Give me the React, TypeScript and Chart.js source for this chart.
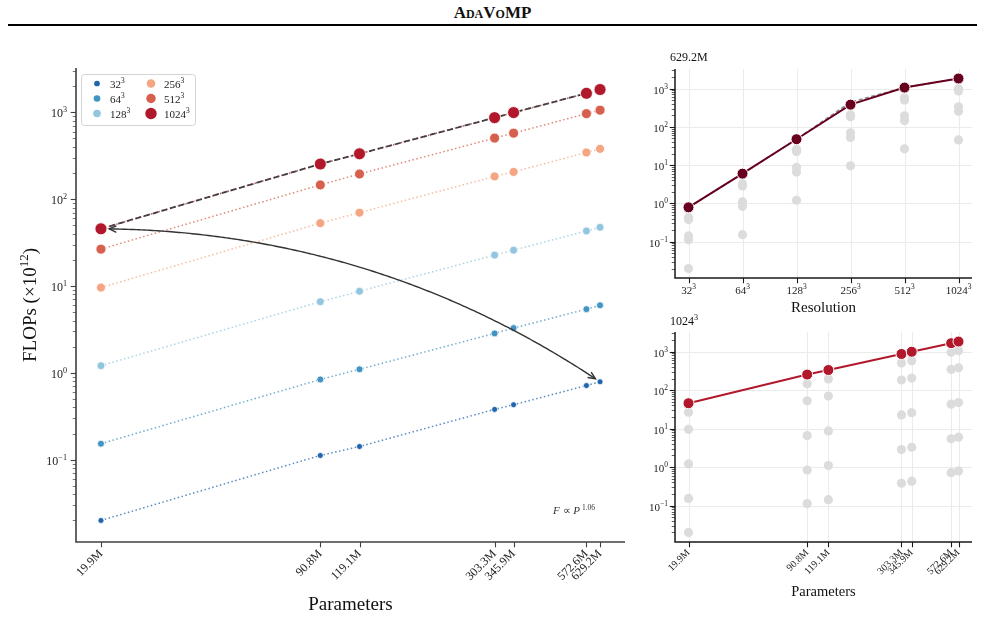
import { useEffect, useRef } from 'react';
import { Chart, registerables } from 'chart.js';

Chart.register(...registerables);

const SERIF = '"Liberation Serif", "Times New Roman", Times, serif';
Chart.defaults.font.family = SERIF;

// Model sizes (millions of parameters) and their tick labels
const params = [19.9, 90.8, 119.1, 303.3, 345.9, 572.6, 629.2];
const paramLabels = ['19.9M', '90.8M', '119.1M', '303.3M', '345.9M', '572.6M', '629.2M'];

// Voxel grid resolutions, shown as N³
const resolutions = ['32', '64', '128', '256', '512', '1024'];

// FLOPs (×10¹²) for each resolution, one value per model size
const flops32 = [0.02, 0.112, 0.142, 0.38, 0.43, 0.715, 0.79];
const flops64 = [0.153, 0.84, 1.1, 2.85, 3.28, 5.42, 6.0];
const flops128 = [1.21, 6.6, 8.7, 22.7, 25.9, 43.1, 47.5];
const flops256 = [9.6, 53, 70, 183, 206, 345, 380];
const flops512 = [26.6, 146, 195, 505, 576, 966, 1060];
const flops1024 = [45.6, 254, 333, 869, 993, 1656, 1830];
const flopsByRes = [flops32, flops64, flops128, flops256, flops512, flops1024];

// Fitted trend of the largest model across resolutions
const resTrend629 = [0.79, 6.0, 47.5, 440, 1060, 1830];

const scalingExponent = '1.06';

const resColors = ['#2166ac', '#4393c3', '#92c5de', '#f4a582', '#d6604d', '#b2182b'];
const markerRadius = [3, 3.5, 4, 4.5, 5, 6];
const LARGEST_COLOR = '#67001f';
const GRAY_PT = '#dcdcdc';

const hexA = (hex: string, a: number) => {
  const n = parseInt(hex.slice(1), 16);
  return `rgba(${(n >> 16) & 255},${(n >> 8) & 255},${n & 255},${a})`;
};

// log-axis limits with a 5% margin on each side (in log space)
const logPad = (lo: number, hi: number) => {
  const f = Math.pow(hi / lo, 0.05);
  return [lo / f, hi * f];
};
const allFlops = flopsByRes.flat();
const [yMin, yMax] = logPad(Math.min(...allFlops), Math.max(...allFlops));
const [xMin, xMax] = logPad(params[0], params[params.length - 1]);

type Run = { t: string; size: number; rise?: number; italic?: boolean };

const setFont = (ctx: CanvasRenderingContext2D, r: Run) => {
  ctx.font = `${r.italic ? 'italic ' : ''}${r.size}px ${SERIF}`;
};
const runsWidth = (ctx: CanvasRenderingContext2D, runs: Run[]) =>
  runs.reduce((w, r) => {
    setFont(ctx, r);
    return w + ctx.measureText(r.t).width;
  }, 0);
function drawRuns(ctx: CanvasRenderingContext2D, runs: Run[], x: number, y: number, align: 'left' | 'center' | 'right') {
  const w = runsWidth(ctx, runs);
  let cx = align === 'left' ? x : align === 'center' ? x - w / 2 : x - w;
  ctx.textAlign = 'left';
  ctx.textBaseline = 'alphabetic';
  for (const r of runs) {
    setFont(ctx, r);
    ctx.fillText(r.t, cx, y - (r.rise || 0));
    cx += ctx.measureText(r.t).width;
  }
}
const pow = (base: string, sup: string, size: number): Run[] => [
  { t: base, size },
  { t: sup, size: size * 0.68, rise: size * 0.42 },
];
const decadeLabel = (d: number, size: number) => pow('10', d < 0 ? '\u2212' + Math.abs(d) : String(d), size);

type AxisStyle = { color: string; width: number; font: number; labelGap: number; textColor: string };

// Left spine with outward log ticks (majors labelled as powers of ten)
function drawLogYAxis(chart: any, s: AxisStyle) {
  const { ctx, chartArea: a } = chart;
  const ys = chart.scales.y;
  ctx.save();
  ctx.strokeStyle = s.color;
  ctx.fillStyle = s.textColor;
  const d0 = Math.floor(Math.log10(ys.min));
  const d1 = Math.ceil(Math.log10(ys.max));
  for (let d = d0; d <= d1; d++) {
    for (let k = 1; k < 10; k++) {
      const v = k * Math.pow(10, d);
      if (v < ys.min || v > ys.max) continue;
      const py = Math.round(ys.getPixelForValue(v)) + 0.5;
      const len = k === 1 ? 4.5 : 2.5;
      ctx.lineWidth = k === 1 ? 1.1 : 0.7;
      ctx.beginPath();
      ctx.moveTo(a.left - s.width / 2 - len, py);
      ctx.lineTo(a.left, py);
      ctx.stroke();
      if (k === 1) drawRuns(ctx, decadeLabel(d, s.font), a.left - s.labelGap, py + s.font * 0.4, 'right');
    }
  }
  ctx.lineWidth = s.width;
  ctx.beginPath();
  ctx.moveTo(a.left, a.top);
  ctx.lineTo(a.left, a.bottom);
  ctx.moveTo(a.left - s.width / 2, a.bottom);
  ctx.lineTo(a.right, a.bottom);
  ctx.stroke();
  ctx.restore();
}

function drawXTickMarks(chart: any, values: number[], s: AxisStyle) {
  const { ctx, chartArea: a } = chart;
  const xs = chart.scales.x;
  ctx.save();
  ctx.strokeStyle = s.color;
  ctx.lineWidth = 1.1;
  for (const v of values) {
    const px = Math.round(xs.getPixelForValue(v)) + 0.5;
    ctx.beginPath();
    ctx.moveTo(px, a.bottom);
    ctx.lineTo(px, a.bottom + s.width / 2 + 4.5);
    ctx.stroke();
  }
  ctx.restore();
}

function drawRotatedLabels(chart: any, values: number[], labels: string[], size: number, dy: number) {
  const { ctx, chartArea: a } = chart;
  const xs = chart.scales.x;
  ctx.save();
  ctx.fillStyle = '#222';
  ctx.font = `${size}px ${SERIF}`;
  values.forEach((v, i) => {
    const px = xs.getPixelForValue(v);
    ctx.save();
    ctx.translate(px, a.bottom + dy);
    ctx.rotate(-Math.PI / 4);
    ctx.textAlign = 'right';
    ctx.textBaseline = 'middle';
    ctx.fillText(labels[i], 0, 0);
    ctx.restore();
  });
  ctx.restore();
}

function drawPanelGrid(chart: any, xValues: number[]) {
  const { ctx, chartArea: a } = chart;
  const xs = chart.scales.x;
  const ys = chart.scales.y;
  ctx.save();
  ctx.strokeStyle = '#ebebeb';
  ctx.lineWidth = 1;
  ctx.beginPath();
  for (const v of xValues) {
    const px = Math.round(xs.getPixelForValue(v)) + 0.5;
    ctx.moveTo(px, a.top);
    ctx.lineTo(px, a.bottom);
  }
  for (let d = Math.ceil(Math.log10(ys.min)); d <= Math.floor(Math.log10(ys.max)); d++) {
    const py = Math.round(ys.getPixelForValue(Math.pow(10, d))) + 0.5;
    ctx.moveTo(a.left, py);
    ctx.lineTo(a.right, py);
  }
  ctx.stroke();
  ctx.restore();
}

// Curved double-headed arrow between two data points (quadratic arc)
function drawArcArrow(ctx: CanvasRenderingContext2D, sx: number, sy: number, ex: number, ey: number, rad: number, shrinkA: number, shrinkB: number) {
  const dx = ex - sx;
  const dy = ey - sy;
  const cx = (sx + ex) / 2 + rad * dy;
  const cy = (sy + ey) / 2 - rad * dx;
  const pts: [number, number][] = [];
  for (let i = 0; i <= 200; i++) {
    const t = i / 200;
    const u = 1 - t;
    pts.push([u * u * sx + 2 * u * t * cx + t * t * ex, u * u * sy + 2 * u * t * cy + t * t * ey]);
  }
  const trim = (p: [number, number][], len: number) => {
    let acc = 0;
    let i = 0;
    while (i < p.length - 1 && acc < len) {
      acc += Math.hypot(p[i + 1][0] - p[i][0], p[i + 1][1] - p[i][1]);
      i++;
    }
    return p.slice(i);
  };
  let path = trim(pts, shrinkA);
  path = trim(path.reverse(), shrinkB).reverse();
  ctx.save();
  ctx.strokeStyle = '#333';
  ctx.lineWidth = 1.4;
  ctx.beginPath();
  path.forEach(([x, y], i) => (i ? ctx.lineTo(x, y) : ctx.moveTo(x, y)));
  ctx.stroke();
  const head = (tip: [number, number], from: [number, number]) => {
    const ang = Math.atan2(tip[1] - from[1], tip[0] - from[0]);
    const L = 8;
    const w = 0.42;
    ctx.beginPath();
    ctx.moveTo(tip[0] - L * Math.cos(ang - w), tip[1] - L * Math.sin(ang - w));
    ctx.lineTo(tip[0], tip[1]);
    ctx.lineTo(tip[0] - L * Math.cos(ang + w), tip[1] - L * Math.sin(ang + w));
    ctx.stroke();
  };
  head(path[0], path[6]);
  head(path[path.length - 1], path[path.length - 7]);
  ctx.restore();
}

const MAIN_AXIS: AxisStyle = { color: '#404040', width: 1.6, font: 12, labelGap: 9, textColor: '#222' };
const SIDE_AXIS: AxisStyle = { color: '#1a1a1a', width: 1.5, font: 11, labelGap: 7, textColor: '#222' };

const mainDecor = {
  id: 'mainDecor',
  afterDatasetsDraw(chart: any) {
    const { ctx, chartArea: a } = chart;
    const xs = chart.scales.x;
    const ys = chart.scales.y;
    const last = params.length - 1;
    drawArcArrow(
      ctx,
      xs.getPixelForValue(params[0]), ys.getPixelForValue(flops1024[0]),
      xs.getPixelForValue(params[last]), ys.getPixelForValue(flops32[last]),
      0.15, 6, 4.5,
    );

    ctx.save();
    ctx.fillStyle = '#333';
    drawRuns(ctx, [
      { t: 'F', size: 11, italic: true },
      { t: ' \u221D ', size: 11 },
      { t: 'P', size: 11, italic: true },
      { t: ' ' + scalingExponent, size: 7.5, rise: 4.5 },
    ], a.right - 30, a.bottom - 28, 'right');
    ctx.restore();

    // legend, two columns of three
    ctx.save();
    const bx = a.left + 5;
    const by = a.top + 6;
    ctx.fillStyle = 'rgba(255,255,255,0.85)';
    ctx.strokeStyle = '#d4d4d4';
    ctx.lineWidth = 1;
    ctx.beginPath();
    ctx.roundRect(bx + 0.5, by + 0.5, 114, 51, 3);
    ctx.fill();
    ctx.stroke();
    resolutions.forEach((r, i) => {
      const col = Math.floor(i / 3);
      const row = i % 3;
      const mx = bx + 16 + col * 54;
      const my = by + 9.5 + row * 15;
      ctx.fillStyle = resColors[i];
      ctx.beginPath();
      ctx.arc(mx, my, markerRadius[i] * 0.95, 0, Math.PI * 2);
      ctx.fill();
      ctx.fillStyle = '#222';
      drawRuns(ctx, pow(r, '3', 11), mx + 13, my + 4, 'left');
    });
    ctx.restore();

    drawLogYAxis(chart, MAIN_AXIS);
    drawXTickMarks(chart, params, MAIN_AXIS);
    drawRotatedLabels(chart, params, paramLabels, 12, 10);

    ctx.save();
    ctx.fillStyle = '#111';
    drawRuns(ctx, [{ t: 'Parameters', size: 19 }], (a.left + a.right) / 2, a.bottom + 68, 'center');
    ctx.translate(36, (a.top + a.bottom) / 2);
    ctx.rotate(-Math.PI / 2);
    drawRuns(ctx, [
      { t: 'FLOPs (\u00D710', size: 19 },
      { t: '12', size: 13, rise: 8 },
      { t: ')', size: 19 },
    ], 0, 0, 'center');
    ctx.restore();
  },
};

const resIndex = resolutions.map((_, i) => i);

const resDecor = {
  id: 'resDecor',
  beforeDatasetsDraw(chart: any) {
    drawPanelGrid(chart, resIndex);
  },
  afterDatasetsDraw(chart: any) {
    const { ctx, chartArea: a } = chart;
    const xs = chart.scales.x;
    drawLogYAxis(chart, SIDE_AXIS);
    drawXTickMarks(chart, resIndex, SIDE_AXIS);
    ctx.save();
    ctx.fillStyle = '#222';
    resolutions.forEach((r, i) => drawRuns(ctx, pow(r, '3', 11), xs.getPixelForValue(i), a.bottom + 16, 'center'));
    ctx.fillStyle = '#111';
    drawRuns(ctx, [{ t: 'Resolution', size: 15 }], (a.left + a.right) / 2, a.bottom + 34, 'center');
    drawRuns(ctx, [{ t: paramLabels[paramLabels.length - 1], size: 12 }], a.left - 5, a.top - 8, 'left');
    ctx.restore();
  },
};

const paramDecor = {
  id: 'paramDecor',
  beforeDatasetsDraw(chart: any) {
    drawPanelGrid(chart, params);
  },
  afterDatasetsDraw(chart: any) {
    const { ctx, chartArea: a } = chart;
    drawLogYAxis(chart, SIDE_AXIS);
    drawXTickMarks(chart, params, SIDE_AXIS);
    drawRotatedLabels(chart, params, paramLabels, 10, 9);
    ctx.save();
    ctx.fillStyle = '#111';
    drawRuns(ctx, [{ t: 'Parameters', size: 14.5 }], (a.left + a.right) / 2, a.bottom + 54, 'center');
    drawRuns(ctx, pow(resolutions[resolutions.length - 1], '3', 12), a.left - 5, a.top - 7, 'left');
    ctx.restore();
  },
};

const baseOptions = (padding: any, xScale: any) => ({
  animation: false as const,
  responsive: false,
  devicePixelRatio: 1,
  events: [] as any[],
  layout: { padding },
  plugins: { legend: { display: false }, tooltip: { enabled: false } },
  scales: {
    x: { ...xScale, display: false },
    y: { type: 'logarithmic', min: yMin, max: yMax, display: false },
  },
});

function makeMain(canvas: HTMLCanvasElement) {
  const byParam = (vals: number[]) => params.map((p, j) => ({ x: p, y: vals[j] }));
  const lines = flopsByRes.map((vals, i) => ({
    data: byParam(vals),
    borderColor: hexA(resColors[i], 0.75),
    borderWidth: 1.5,
    borderDash: [1.5, 2.5],
    pointRadius: 0,
    showLine: true,
    order: 3,
  }));
  const fit = {
    data: byParam(flops1024),
    borderColor: 'rgba(50,50,50,0.9)',
    borderWidth: 1.8,
    borderDash: [6, 3],
    pointRadius: 0,
    showLine: true,
    order: 2,
  };
  const points = flopsByRes.map((vals, i) => ({
    data: byParam(vals),
    showLine: false,
    pointRadius: markerRadius[i],
    pointBackgroundColor: resColors[i],
    pointBorderColor: '#ffffff',
    pointBorderWidth: 0.8,
    order: 1,
  }));
  return new Chart(canvas, {
    type: 'line',
    data: { datasets: [...lines, fit, ...points] as any },
    options: baseOptions({ left: 76, right: 15, top: 38, bottom: 75 }, { type: 'logarithmic', min: xMin, max: xMax }) as any,
    plugins: [mainDecor],
  });
}

function makeByResolution(canvas: HTMLCanvasElement) {
  const largest = params.length - 1;
  const others: { x: number; y: number }[] = [];
  flopsByRes.forEach((vals, r) => vals.forEach((v, j) => { if (j !== largest) others.push({ x: r, y: v }); }));
  return new Chart(canvas, {
    type: 'line',
    data: {
      datasets: [
        { data: others, showLine: false, pointRadius: 4.6, pointBackgroundColor: GRAY_PT, pointBorderWidth: 0, order: 3 },
        { data: resTrend629.map((v, r) => ({ x: r, y: v })), borderColor: '#8c8c8c', borderWidth: 1.6, borderDash: [4, 2.5], pointRadius: 0, order: 2 },
        {
          data: flopsByRes.map((vals, r) => ({ x: r, y: vals[largest] })),
          borderColor: LARGEST_COLOR, borderWidth: 2, pointRadius: 5.5,
          pointBackgroundColor: LARGEST_COLOR, pointBorderColor: '#fff', pointBorderWidth: 1, order: 1,
        },
      ] as any,
    },
    options: baseOptions({ left: 35, right: 13, top: 29, bottom: 37 }, { type: 'linear', min: -0.25, max: resolutions.length - 0.75 }) as any,
    plugins: [resDecor],
  });
}

function makeByParams(canvas: HTMLCanvasElement) {
  const top = flopsByRes.length - 1;
  const others: { x: number; y: number }[] = [];
  flopsByRes.forEach((vals, r) => { if (r !== top) vals.forEach((v, j) => others.push({ x: params[j], y: v })); });
  return new Chart(canvas, {
    type: 'line',
    data: {
      datasets: [
        { data: others, showLine: false, pointRadius: 4.6, pointBackgroundColor: GRAY_PT, pointBorderWidth: 0, order: 2 },
        {
          data: params.map((p, j) => ({ x: p, y: flops1024[j] })),
          borderColor: resColors[top], borderWidth: 2, pointRadius: 5.5,
          pointBackgroundColor: resColors[top], pointBorderColor: '#fff', pointBorderWidth: 1, order: 1,
        },
      ] as any,
    },
    options: baseOptions({ left: 35, right: 13, top: 20, bottom: 75 }, { type: 'logarithmic', min: xMin, max: xMax }) as any,
    plugins: [paramDecor],
  });
}

function ChartCanvas({ make, left, top, width, height }: { make: (c: HTMLCanvasElement) => Chart; left: number; top: number; width: number; height: number }) {
  const ref = useRef<HTMLCanvasElement>(null);
  useEffect(() => {
    const chart = make(ref.current!);
    return () => chart.destroy();
  }, [make]);
  return (
    <canvas
      ref={ref}
      width={width}
      height={height}
      style={{ position: 'absolute', left, top, width, height }}
    />
  );
}

export default function App() {
  return (
    <div style={{ position: 'absolute', left: 0, top: 0, width: 985, height: 617, background: '#fff', overflow: 'hidden' }}>
      <div
        style={{
          position: 'absolute', left: 0, top: 2, width: 985, textAlign: 'center',
          font: `bold 17px ${SERIF}`, fontVariant: 'small-caps', lineHeight: '22px', color: '#111',
        }}
      >
        AdaVoMP
      </div>
      <div style={{ position: 'absolute', left: 8, top: 24, width: 969, height: 2, background: '#000' }} />
      <ChartCanvas make={makeMain} left={0} top={30} width={640} height={587} />
      <ChartCanvas make={makeByResolution} left={640} top={40} width={345} height={275} />
      <ChartCanvas make={makeByParams} left={640} top={312} width={345} height={305} />
    </div>
  );
}
